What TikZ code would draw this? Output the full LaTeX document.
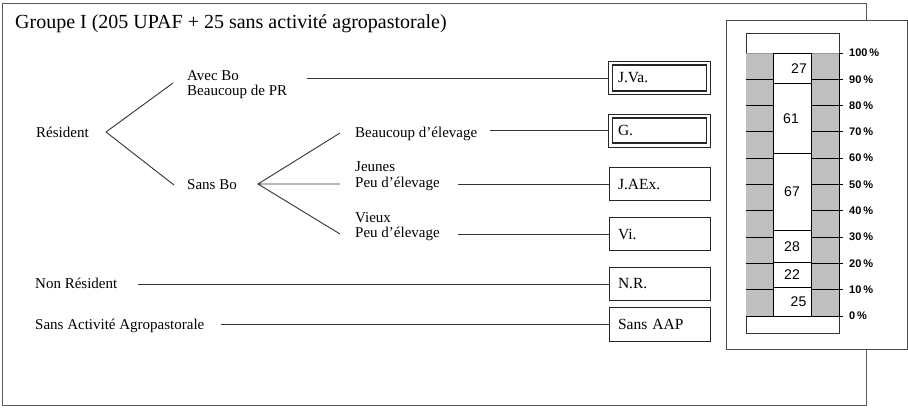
\documentclass[tikz,border=0pt]{standalone}
\usepackage{fontspec}
\setmainfont{Liberation Serif}
\newfontfamily\chartfont{Liberation Sans}
\tikzset{
  txt/.style={anchor=base west,inner sep=0pt,font=\fontsize{15}{15.5}\selectfont},
  txtml/.style={anchor=west,inner sep=0pt,align=left,font=\fontsize{15}{15.5}\selectfont},
  code/.style={draw=black!85,line width=0.8pt,text width=83pt,inner xsep=9pt,minimum height=33.5pt,align=left,font=\fontsize{15.5}{16}\selectfont},
  codedbl/.style={code,line width=1.6pt,text width=83pt,inner xsep=5.5pt,minimum height=25.5pt},
  branch/.style={draw=black!80,line width=0.9pt},
  pctlbl/.style={anchor=west,inner sep=0pt,font=\chartfont\bfseries\fontsize{11}{11}\selectfont},
  vallbl/.style={inner sep=0pt,font=\chartfont\fontsize{14}{14}\selectfont}
}
\begin{document}
\begin{tikzpicture}[x=1pt,y=-1pt]
\useasboundingbox (0,0) rectangle (908,408);
\draw[black!65,line width=0.9pt] (2,3) rectangle (866,405);
\node[anchor=base west,inner sep=0pt,font=\fontsize{20}{22}\selectfont] (title) at (15,28) {Groupe I (205 UPAF + 25 sans activité agropastorale)};

\node[txt] (res) at (36,137) {Résident};
\node[txtml] (avec) at (187,84.5) {Avec Bo\\Beaucoup de PR};
\node[txt] (sansbo) at (187,189) {Sans Bo};
\node[txt] (beau) at (355,137.5) {Beaucoup d'élevage};
\node[txtml] (jeun) at (355,176.4) {Jeunes\\Peu d'élevage};
\node[txtml] (vieu) at (355,226.5) {Vieux\\Peu d'élevage};
\node[txt] (nonres) at (35,288) {Non Résident};
\node[txt] (saap) at (35,329.5) {Sans Activité Agropastorale};

\node[codedbl] (jva) at (659.5,78) {J.Va.};
\node[codedbl] (g) at (659.5,130.5) {G.};
\node[code] (jaex) at (659.5,184) {J.AEx.};
\node[code] (vi) at (659.5,234) {Vi.};
\node[code] (nr) at (659.5,284) {N.R.};
\node[code] (aap) at (659.5,324.5) {Sans AAP};
\foreach \n in {jva,g}
  \draw[black!85,line width=0.7pt] ([shift={(-3,-3)}]\n.north west) rectangle ([shift={(3,3)}]\n.south east);

\coordinate (resV) at (106,132);
\coordinate (avecT) at (173,83);
\coordinate (sansT) at (174,185);
\coordinate (sansV) at (258,184);
\coordinate (beauT) at (340,133);
\coordinate (jeunT) at (340,184);
\coordinate (vieuT) at (340,234);
\draw[branch] (avecT) -- (resV) -- (sansT);
\draw[branch] (beauT) -- (sansV) -- (vieuT) (sansV) -- (jeunT);

\coordinate (avecE) at (307,78);
\coordinate (beauE) at (490,130.5);
\coordinate (jeunE) at (458,184);
\coordinate (vieuE) at (458,234);
\coordinate (nonresE) at (138,284);
\coordinate (saapE) at (221,324.5);
\draw[branch] (avecE) -- ([xshift=-3pt]jva.west);
\draw[branch] (beauE) -- ([xshift=-3pt]g.west);
\draw[branch] (jeunE) -- (jaex);
\draw[branch] (vieuE) -- (vi);
\draw[branch] (nonresE) -- (nr);
\draw[branch] (saapE) -- (aap);

\draw[black!70,line width=0.9pt,fill=white] (726,20) rectangle (907,349);
\draw[black!80,line width=0.8pt] (746,33) rectangle (839,333);
\fill[black!25] (746,53) rectangle (839,316);
\draw[black!40] (746,53) -- (839,53);
\foreach \p in {1,...,9}
  \draw[line width=1pt] (746,{316-26.3*\p}) -- (839,{316-26.3*\p});
\foreach \lo/\hi/\v/\dx in {0/25/25/6.5,25/47/22/0,47/75/28/0,75/142/67/0,142/203/61/-1,203/230/27/7}{
  \draw[line width=0.8pt,fill=white] (773,{316-\lo*1.143478}) rectangle (811,{316-\hi*1.143478});
  \node[vallbl] (val\v) at ({792+\dx},{316-(\lo+\hi)*0.571739}) {\v};
}
\draw[line width=1pt] (746,316) -- (843,316);
\draw[line width=0.9pt] (839,53) -- (839,316);
\foreach \p in {0,...,10}{
  \pgfmathtruncatemacro\pc{10*\p}
  \draw[line width=0.9pt] (839,{316-26.3*\p}) -- (843,{316-26.3*\p});
  \node[pctlbl] (pct\p) at (849,{316-26.3*\p}) {\pc\,\%};
}
\end{tikzpicture}
\end{document}
